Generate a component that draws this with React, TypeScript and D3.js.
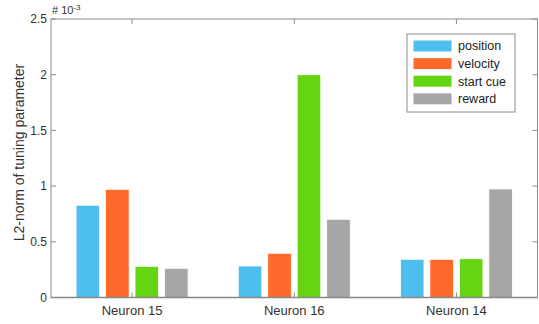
import React from "react";
import * as d3 from "d3";

const categories = ["Neuron 15", "Neuron 16", "Neuron 14"];
const seriesNames = ["position", "velocity", "start cue", "reward"];
const seriesColors = ["#4DBEEE", "#FF6929", "#64D413", "#A6A6A6"];
const position = [0.828, 0.283, 0.343];
const velocity = [0.971, 0.397, 0.343];
const startCue = [0.28, 2.0, 0.348];
const reward = [0.262, 0.702, 0.974];
const yTicks = [0, 0.5, 1, 1.5, 2, 2.5];
const yTickLabels = ["0", "0.5", "1", "1.5", "2", "2.5"];

const W = 539, H = 324;
const left = 51, right = 537.5, top = 19, bottom = 297.5;
const axisColor = "#8c8c8c";
const font = "Liberation Sans, Arial, sans-serif";

export default function App() {
  const series = [position, velocity, startCue, reward];
  const x = d3.scaleLinear().domain([0.5, 3.5]).range([left, right]);
  const y = d3.scaleLinear().domain([0, 2.5]).range([bottom, top]);
  const nb = series.length;
  const groupW = Math.min(0.8, nb / (nb + 1.5));
  const step = groupW / nb;
  const barW = step * 0.8;
  return (
    <svg width={W} height={H} style={{ position: "absolute", left: 0, top: 0, background: "#fff" }}>
      {series.map((vals, si) =>
        vals.map((v, ci) => {
          const cx = ci + 1 - groupW / 2 + step * (si + 0.5);
          const x0 = x(cx - barW / 2);
          const x1 = x(cx + barW / 2);
          return (
            <rect key={`${si}-${ci}`} x={x0} y={y(v)} width={x1 - x0} height={y(0) - y(v)}
              fill={seriesColors[si]} stroke="#ffffff" strokeWidth={0.8} />
          );
        })
      )}
      <rect x={left} y={top} width={right - left} height={bottom - top} fill="none" stroke={axisColor} strokeWidth={1} />
      <line x1={left} x2={right} y1={bottom} y2={bottom} stroke="#888" strokeWidth={1.5} />
      {yTicks.map((t, i) => (
        <g key={"y" + i}>
          <line x1={left} x2={left + 5} y1={y(t)} y2={y(t)} stroke={axisColor} />
          <line x1={right} x2={right - 5} y1={y(t)} y2={y(t)} stroke={axisColor} />
          <text x={left - 4} y={y(t)} dy="0.35em" textAnchor="end" fontFamily={font} fontSize={12} fill="#333">
            {yTickLabels[i]}
          </text>
        </g>
      ))}
      {categories.map((c, i) => (
        <g key={"x" + i}>
          <line x1={x(i + 1)} x2={x(i + 1)} y1={bottom} y2={bottom - 5} stroke={axisColor} />
          <line x1={x(i + 1)} x2={x(i + 1)} y1={top} y2={top + 5} stroke={axisColor} />
          <text x={x(i + 1)} y={bottom + 17} textAnchor="middle" fontFamily={font} fontSize={13} fill="#333">
            {c}
          </text>
        </g>
      ))}
      <text x={left + 1} y={14} fontFamily={font} fontSize={11} fill="#333">
        # 10<tspan dy={-4} fontSize={8}>-3</tspan>
      </text>
      <text transform={`translate(24,152.5) rotate(-90)`} textAnchor="middle" fontFamily={font} fontSize={14} fill="#333">
        L2-norm of tuning parameter
      </text>
      <g>
        <rect x={407} y={34} width={108} height={78} fill="#fff" stroke="#8c8c8c" strokeWidth={1} />
        {seriesNames.map((n, i) => (
          <g key={"l" + i}>
            <rect x={413.5} y={40.5 + i * 17.6} width={38} height={11} fill={seriesColors[i]} />
            <text x={458} y={46 + i * 17.6} dy="0.35em" fontFamily={font} fontSize={12.5} fill="#222">
              {n}
            </text>
          </g>
        ))}
      </g>
    </svg>
  );
}
